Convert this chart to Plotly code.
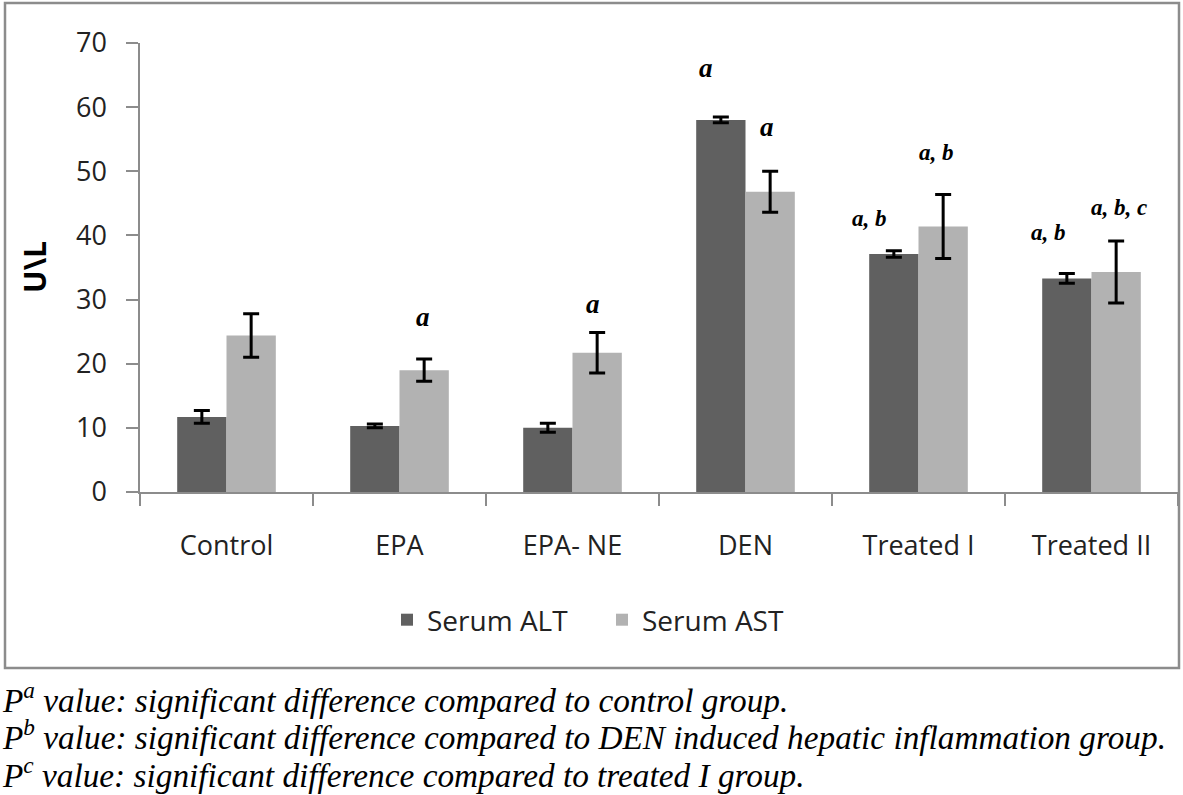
import plotly.graph_objects as go

categories = ["Control", "EPA", "EPA- NE", "DEN", "Treated I", "Treated II"]
alt_values = [11.7, 10.3, 10.0, 58.0, 37.1, 33.3]
alt_errors = [1.0, 0.3, 0.7, 0.45, 0.5, 0.75]
ast_values = [24.4, 19.0, 21.7, 46.8, 41.4, 34.3]
ast_errors = [3.4, 1.75, 3.15, 3.2, 5.0, 4.85]

# significance labels: (category, series, label, y position in data units)
sig_labels = [
    ("EPA", "AST", "a", 27.3),
    ("EPA- NE", "AST", "a", 29.3),
    ("DEN", "ALT", "a", 66.1),
    ("DEN", "AST", "a", 56.9),
    ("Treated I", "ALT", "a, b", 42.7),
    ("Treated I", "AST", "a, b", 53.0),
    ("Treated II", "ALT", "a, b", 40.5),
    ("Treated II", "AST", "a, b, c", 44.4),
]
sig_xshift = [23, 20, -40, 21, -49, 18, -43, 27]

footnotes = [
    "P<sup>a</sup> value: significant difference compared to control group.",
    "P<sup>b</sup> value: significant difference compared to DEN induced hepatic inflammation group.",
    "P<sup>c</sup> value: significant difference compared to treated I group.",
]

W, H = 1183, 795
L, R, T, B = 140, 5, 43, 303
PW = W - L - R
PH = H - T - B


def px(xp):
    return (xp - L) / PW


def py(yp):
    return (H - B - yp) / PH


ALT_COLOR = "#606060"
AST_COLOR = "#b2b2b2"
AXIS_COLOR = "#8c8c8c"
SANS = "'Open Sans', Lato, sans-serif"
SERIF = "'Liberation Serif', 'Times New Roman', serif"

fig = go.Figure()
fig.add_trace(go.Bar(
    name="Serum ALT", x=categories, y=alt_values,
    marker=dict(color=ALT_COLOR, line=dict(width=0)),
    error_y=dict(type="data", array=alt_errors, color="black", thickness=3, width=8),
))
fig.add_trace(go.Bar(
    name="Serum AST", x=categories, y=ast_values,
    marker=dict(color=AST_COLOR, line=dict(width=0)),
    error_y=dict(type="data", array=ast_errors, color="black", thickness=3, width=8),
))

annotations = []
for (cat, ser, lab, yv), xs in zip(sig_labels, sig_xshift):
    annotations.append(dict(
        x=cat, y=yv, xref="x", yref="y", text="<b><i>" + lab + "</i></b>",
        showarrow=False, xshift=xs, xanchor="center", yanchor="middle",
        font=dict(family=SERIF, size=(27 if lab == "a" else 23), color="black"),
    ))

# y-axis title
annotations.append(dict(
    x=px(34), y=py(267), xref="paper", yref="paper", text="<b>U\\L</b>",
    textangle=-90, showarrow=False, xanchor="center", yanchor="middle",
    font=dict(family=SANS, size=30, color="black"),
))

foot_y = [698, 735, 773]
for txt, yy in zip(footnotes, foot_y):
    annotations.append(dict(
        x=px(0), y=py(yy), xref="paper", yref="paper", text="<i>" + txt + "</i>",
        showarrow=False, xanchor="left", yanchor="middle",
        font=dict(family=SERIF, size=33.3, color="black"),
    ))

shapes = [dict(
    type="rect", xref="paper", yref="paper",
    x0=px(5), x1=px(1179), y0=py(668), y1=py(3),
    line=dict(color=AXIS_COLOR, width=2.5), fillcolor="rgba(0,0,0,0)", layer="below",
)]

fig.update_layout(
    width=W, height=H,
    margin=dict(l=L, r=R, t=T, b=B, autoexpand=False),
    paper_bgcolor="white", plot_bgcolor="white",
    barmode="group", bargap=0.43, bargroupgap=0,
    showlegend=True,
    legend=dict(
        orientation="h", x=px(387), y=py(620), xanchor="left", yanchor="middle",
        font=dict(family=SANS, size=28, color="#222222"),
        itemwidth=30, traceorder="normal",
        entrywidth=170, entrywidthmode="pixels",
    ),
    annotations=annotations,
    shapes=shapes,
    xaxis=dict(
        type="category", showline=True, linecolor=AXIS_COLOR, linewidth=1.5,
        ticks="outside", tickson="boundaries", ticklen=12, tickcolor=AXIS_COLOR, tickwidth=1.5,
        tickfont=dict(family=SANS, size=27, color="#222222"),
        ticklabelstandoff=29, showgrid=False, zeroline=False,
    ),
    yaxis=dict(
        range=[0, 70], dtick=10, showline=True, linecolor=AXIS_COLOR, linewidth=1.5,
        ticks="outside", ticklen=12, tickcolor=AXIS_COLOR, tickwidth=1.5,
        tickfont=dict(family=SANS, size=27, color="#222222"),
        ticklabelstandoff=14, showgrid=False, zeroline=False,
    ),
)

fig.write_html("out.html", post_script="document.body.style.margin='0';",
               config={"displayModeBar": False})
